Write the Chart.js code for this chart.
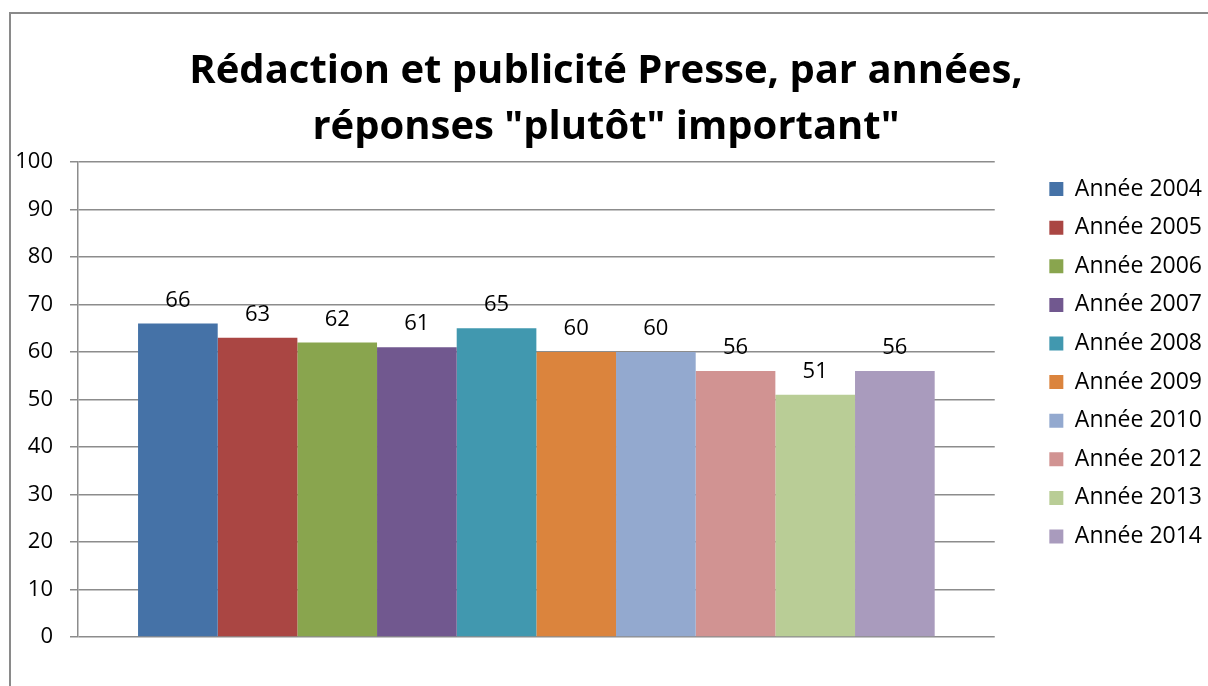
<!DOCTYPE html>
<html>
<head>
<meta charset="utf-8">
<script src="https://cdn.jsdelivr.net/npm/chart.js@4"></script>
<style>
  html, body { margin: 0; padding: 0; background: #fff; }
  #wrap { position: relative; width: 1208px; height: 686px; overflow: hidden; }
  /* outer chart frame, runs off the right and bottom edges like the original */
  #frame { position: absolute; left: 9px; top: 12px; width: 1300px; height: 800px;
           border: 2px solid #8a8a8a; box-sizing: border-box; }
  canvas { position: absolute; left: 0; top: 0; }
</style>
</head>
<body>
<div id="wrap">
  <div id="frame"></div>
  <canvas id="chart" width="1208" height="686"></canvas>
</div>
<script>
// Data
const titleLines = ['Rédaction et publicité Presse, par années,', 'réponses "plutôt" important"'];
const categories = [''];
const seriesLabels = ['Année 2004', 'Année 2005', 'Année 2006', 'Année 2007', 'Année 2008',
                      'Année 2009', 'Année 2010', 'Année 2012', 'Année 2013', 'Année 2014'];
const seriesValues = [66, 63, 62, 61, 65, 60, 60, 56, 51, 56];
const seriesColors = ['#4572A7', '#AA4643', '#89A54E', '#71588F', '#4198AF',
                      '#DB843D', '#93A9CF', '#D19392', '#B9CD96', '#A99BBD'];
const yMin = 0;
const yMax = 100;
const yStep = 10;

const fontFamily = '"Open Sans", "DejaVu Sans", sans-serif';
const axisColor = '#8c8c8c';

/**
 * Draws the value above each bar.
 */
const valueLabels = {
  id: 'valueLabels',
  afterDatasetsDraw(chart) {
    const ctx = chart.ctx;
    ctx.save();
    ctx.font = '22px ' + fontFamily;
    ctx.fillStyle = '#000';
    ctx.textAlign = 'center';
    ctx.textBaseline = 'alphabetic';
    chart.data.datasets.forEach((ds, i) => {
      chart.getDatasetMeta(i).data.forEach((bar, j) => {
        ctx.fillText(ds.data[j], bar.x, bar.y - 17);
      });
    });
    ctx.restore();
  },
};

const datasets = seriesLabels.map((label, i) => ({
  label: label,
  data: [seriesValues[i]],
  backgroundColor: seriesColors[i],
  borderWidth: 0,
  barPercentage: 1,
  categoryPercentage: 0.869,
}));

new Chart(document.getElementById('chart').getContext('2d'), {
  type: 'bar',
  data: {
    labels: categories,
    datasets: datasets,
  },
  options: {
    responsive: false,
    animation: false,
    layout: {
      padding: { left: 0, right: -4, top: 0, bottom: 49 },
    },
    plugins: {
      title: {
        display: true,
        text: titleLines,
        color: '#000',
        font: { family: fontFamily, size: 40, weight: 'bold', lineHeight: 1.4 },
        padding: { top: 44, bottom: 6 },
      },
      legend: {
        position: 'right',
        align: 'start',
        fullSize: false,
        labels: {
          boxWidth: 14,
          boxHeight: 14,
          padding: 15.6,
          color: '#000',
          font: { family: fontFamily, size: 23 },
        },
      },
      tooltip: { enabled: false },
    },
    scales: {
      x: {
        display: false,
      },
      y: {
        min: yMin,
        max: yMax,
        ticks: {
          stepSize: yStep,
          color: '#000',
          padding: 17,
          font: { family: fontFamily, size: 22 },
        },
        grid: { color: axisColor, lineWidth: 1.5, tickLength: 8 },
        border: { color: axisColor, width: 1.5 },
        afterFit(scale) {
          scale.width = 78;
        },
      },
      // empty spacer so the plot stops short of the legend
      gap: {
        type: 'linear',
        position: 'right',
        display: true,
        grid: { display: false },
        ticks: { display: false },
        border: { display: false },
        afterFit(scale) {
          scale.width = 39;
        },
      },
    },
  },
  plugins: [valueLabels],
});
</script>
</body>
</html>
